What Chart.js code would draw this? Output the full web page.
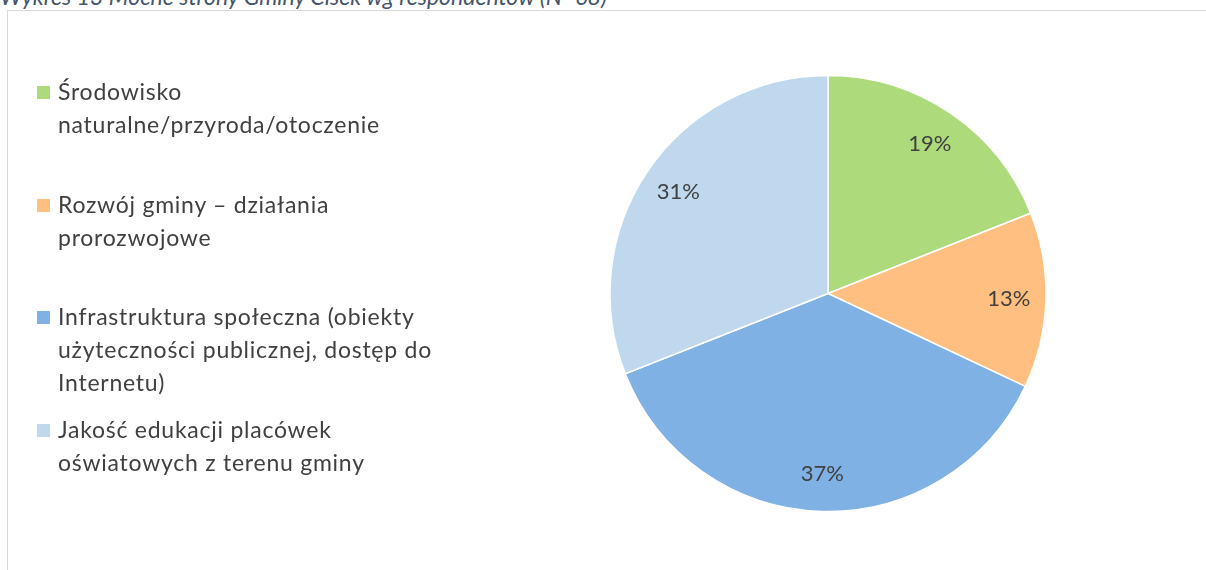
<!DOCTYPE html>
<html>
<head>
<meta charset="utf-8">
<script src="https://cdn.jsdelivr.net/npm/chart.js@4.4.1/dist/chart.umd.min.js"></script>
<style>
  html, body { margin: 0; padding: 0; background: #fff; width: 1206px; height: 570px; overflow: hidden; }
  #title { position: absolute; left: 0; top: -18px; font-family: Lato, "Open Sans", sans-serif; font-style: italic; font-size: 23px; color: #44546A; white-space: nowrap; }
  #frame { position: absolute; left: 7px; top: 10px; width: 1300px; height: 700px; border: 1px solid #D9D9D9; box-sizing: border-box; }
  #wrap { position: absolute; left: 0; top: 0; width: 1206px; height: 570px; }
  #legend { position: absolute; left: 0; top: 0; font-family: Lato, "Open Sans", sans-serif; font-size: 23px; font-weight: 400; letter-spacing: 0.75px; color: #404040; }
  .item { position: absolute; left: 37px; white-space: nowrap; line-height: 33px; }
  .sw { position: absolute; left: 0; top: 11px; width: 13px; height: 13px; }
  .txt { position: absolute; left: 21px; top: 0; }
</style>
</head>
<body>
<div id="title">Wykres 13 Mocne strony Gminy Cisek wg respondentów (N=68)</div>
<div id="frame"></div>
<div id="wrap"><canvas id="c" width="1206" height="570"></canvas></div>
<div id="legend"></div>
<script>
const categories = [
  ["Środowisko", "naturalne/przyroda/otoczenie"],
  ["Rozwój gminy – działania", "prorozwojowe"],
  ["Infrastruktura społeczna (obiekty", "użyteczności publicznej, dostęp do", "Internetu)"],
  ["Jakość edukacji placówek", "oświatowych z terenu gminy"]
];
const values = [19, 13, 37, 31];
const colors = ["#ADDB7B", "#FFBF80", "#7FB1E5", "#C0D8EE"];

const pctLabels = {
  id: 'pctLabels',
  afterDatasetsDraw(chart) {
    const ctx = chart.ctx;
    const meta = chart.getDatasetMeta(0);
    const data = chart.data.datasets[0].data;
    const total = data.reduce((a, b) => a + b, 0);
    ctx.save();
    ctx.font = '400 22px Lato, "Open Sans", sans-serif';
    ctx.fillStyle = '#404040';
    ctx.textAlign = 'center';
    ctx.textBaseline = 'middle';
    meta.data.forEach((arc, i) => {
      const p = arc.getProps(['x', 'y', 'startAngle', 'endAngle', 'outerRadius'], true);
      const mid = (p.startAngle + p.endAngle) / 2;
      const r = p.outerRadius * 0.83;
      ctx.fillText(Math.round(data[i] / total * 100) + '%', p.x + Math.cos(mid) * r, p.y + Math.sin(mid) * r);
    });
    ctx.restore();
  }
};

const chart = new Chart(document.getElementById('c'), {
  type: 'pie',
  data: {
    labels: categories,
    datasets: [{
      data: values,
      backgroundColor: colors,
      borderColor: '#ffffff',
      borderWidth: 1.5,
      hoverOffset: 0,
      radius: 218
    }]
  },
  options: {
    responsive: false,
    animation: false,
    events: [],
    layout: { padding: { left: 450, top: 17, right: 0, bottom: 0 } },
    plugins: { legend: { display: false }, tooltip: { enabled: false } }
  },
  plugins: [pctLabels]
});

// HTML legend built from the chart's own labels and colours
const legend = document.getElementById('legend');
const itemTops = [75, 188, 300, 413];
chart.data.labels.forEach((lines, i) => {
  const item = document.createElement('div');
  item.className = 'item';
  item.style.top = itemTops[i] + 'px';
  const sw = document.createElement('div');
  sw.className = 'sw';
  sw.style.background = chart.data.datasets[0].backgroundColor[i];
  const txt = document.createElement('div');
  txt.className = 'txt';
  txt.innerHTML = lines.map(l => l.replace(/&/g, '&amp;').replace(/</g, '&lt;')).join('<br>');
  item.appendChild(sw);
  item.appendChild(txt);
  legend.appendChild(item);
});
</script>
</body>
</html>
